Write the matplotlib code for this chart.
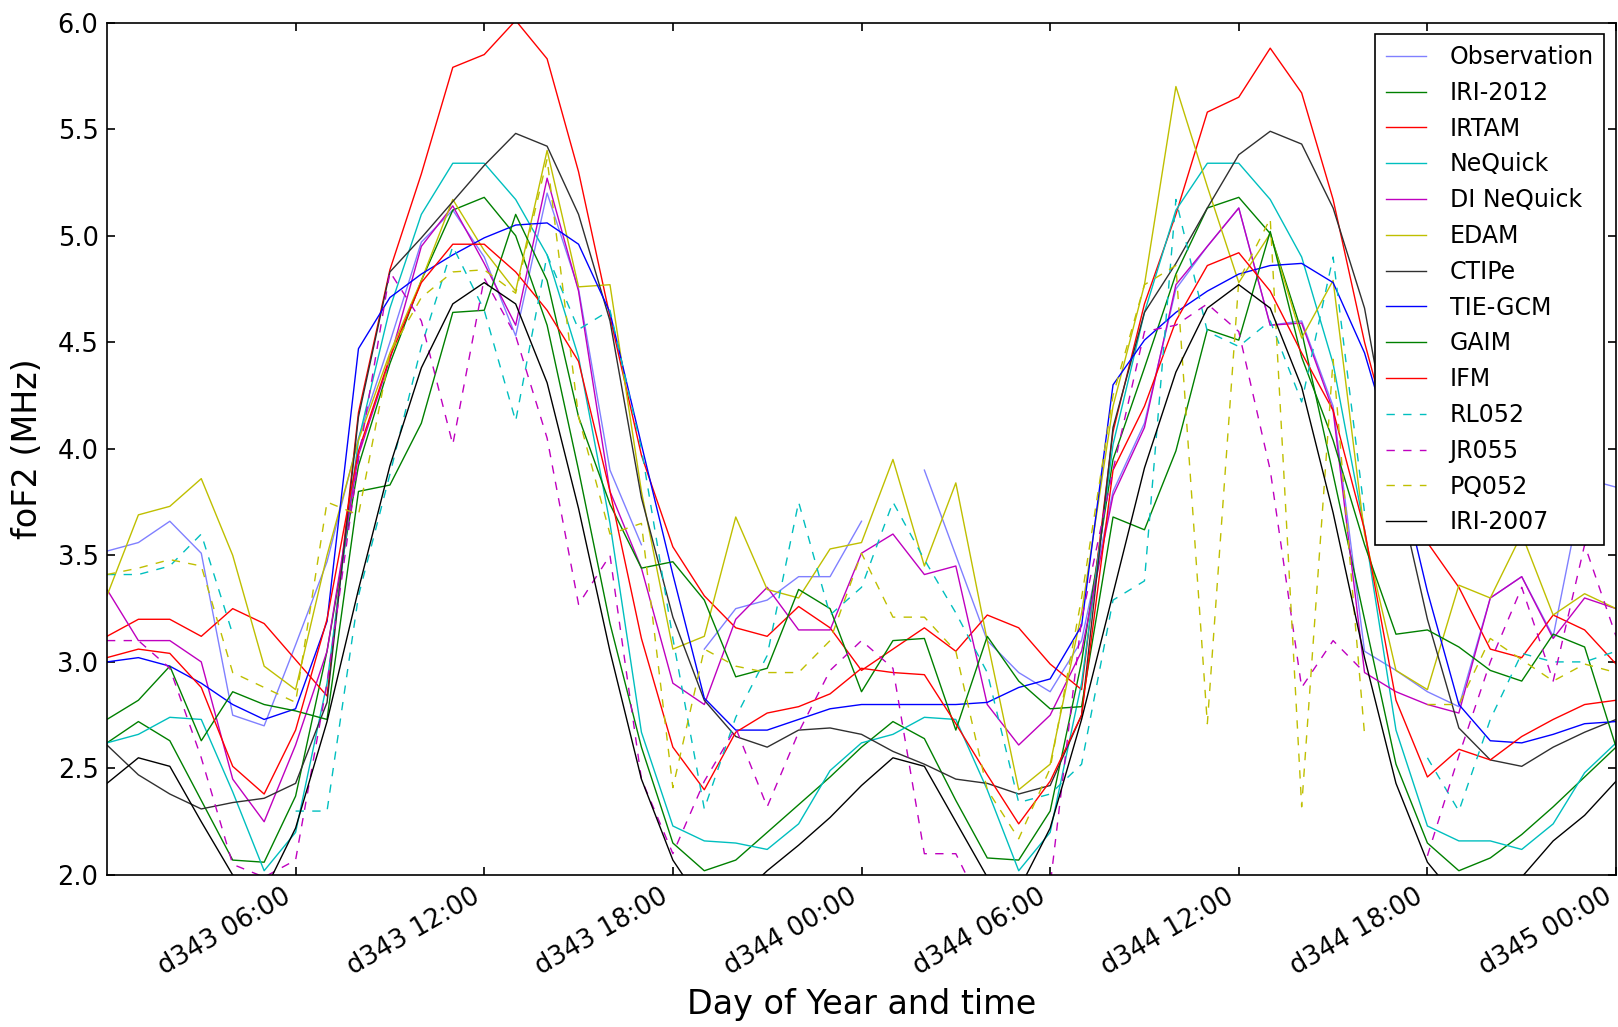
import numpy as np
import matplotlib
matplotlib.use("Agg")
import matplotlib.pyplot as plt

nan = np.nan

# hours since d343 00:00, one value per hour
hours = list(range(49))
tick_hours = [6, 12, 18, 24, 30, 36, 42, 48]
tick_labels = ["d343 06:00", "d343 12:00", "d343 18:00", "d344 00:00",
               "d344 06:00", "d344 12:00", "d344 18:00", "d345 00:00"]

observation = [3.52, 3.56, 3.66, 3.51, 2.75, 2.70, 3.08, 3.47, 4.05, 4.50, 4.97, 5.12, 4.90,
               4.53, 5.20, 4.75, 3.90, 3.55, nan, 3.06, 3.25, 3.29, 3.40, 3.40, 3.66,
               nan, 3.90, 3.50, 3.10, 2.95, 2.86, 3.10, 3.80, 4.12, 4.75, 4.95, 5.13,
               4.58, 4.60, 4.20, 3.05, 2.96, 2.86, 2.79, 3.30, 3.40, 3.12, 3.86, 3.82]
iri2012 = [2.62, 2.72, 2.63, 2.35, 2.07, 2.06, 2.37, 3.05, 3.92, 4.40, 4.79, 5.12, 5.18,
           5.00, 4.58, 3.90, 3.18, 2.60, 2.15, 2.02, 2.07, 2.20, 2.33, 2.46, 2.60,
           2.72, 2.64, 2.35, 2.08, 2.07, 2.30, 3.00, 3.95, 4.38, 4.82, 5.13, 5.18,
           5.01, 4.55, 3.88, 3.20, 2.52, 2.15, 2.02, 2.08, 2.19, 2.32, 2.46, 2.60]
irtam = [3.12, 3.20, 3.20, 3.12, 3.25, 3.18, 3.01, 2.84, 4.17, 4.84, 5.29, 5.79, 5.85,
         6.01, 5.83, 5.30, 4.62, 3.97, 3.54, 3.31, 3.16, 3.12, 3.26, 3.16, 2.96,
         3.06, 3.16, 3.05, 3.22, 3.16, 2.99, 2.87, 4.08, 4.68, 5.10, 5.58, 5.65,
         5.88, 5.67, 5.17, 4.50, 3.95, 3.56, 3.35, 3.06, 3.02, 3.22, 3.15, 2.99]
nequick = [2.62, 2.66, 2.74, 2.73, 2.39, 2.02, 2.20, 2.90, 4.04, 4.66, 5.10, 5.34, 5.34,
           5.17, 4.91, 4.43, 3.65, 2.67, 2.23, 2.16, 2.15, 2.12, 2.24, 2.49, 2.62,
           2.66, 2.74, 2.73, 2.40, 2.02, 2.20, 2.90, 4.02, 4.64, 5.12, 5.34, 5.34,
           5.17, 4.90, 4.40, 3.62, 2.68, 2.23, 2.16, 2.16, 2.12, 2.24, 2.48, 2.62]
di_nequick = [3.34, 3.10, 3.10, 3.00, 2.45, 2.25, 2.61, 3.05, 3.97, 4.42, 4.95, 5.14, 4.87,
              4.58, 5.27, 4.74, 3.80, 3.44, 2.90, 2.80, 3.20, 3.35, 3.15, 3.15, 3.51,
              3.60, 3.41, 3.45, 2.80, 2.61, 2.75, 3.05, 3.78, 4.10, 4.77, 4.95, 5.13,
              4.58, 4.59, 4.18, 2.95, 2.86, 2.80, 2.76, 3.30, 3.40, 3.11, 3.30, 3.25]
edam = [3.31, 3.69, 3.73, 3.86, 3.50, 2.98, 2.87, 3.50, 4.04, 4.45, 4.79, 5.17, 4.93,
        4.74, 5.40, 4.76, 4.77, 3.80, 3.06, 3.12, 3.68, 3.34, 3.30, 3.53, 3.56,
        3.95, 3.45, 3.84, 3.10, 2.40, 2.52, 3.23, 4.20, 4.77, 5.70, 5.23, 4.78,
        5.01, 4.52, 4.79, 3.60, 2.96, 2.87, 3.36, 3.30, 3.60, 3.22, 3.32, 3.25]
ctipe = [2.61, 2.47, 2.38, 2.31, 2.34, 2.36, 2.43, 2.81, 4.15, 4.83, 4.99, 5.16, 5.33,
         5.48, 5.42, 5.10, 4.60, 3.77, 3.21, 2.82, 2.65, 2.60, 2.68, 2.69, 2.66,
         2.58, 2.52, 2.45, 2.43, 2.38, 2.42, 2.75, 4.10, 4.64, 4.87, 5.13, 5.38,
         5.49, 5.43, 5.13, 4.66, 3.85, 3.20, 2.69, 2.54, 2.51, 2.60, 2.67, 2.73]
tiegcm = [3.00, 3.02, 2.98, 2.90, 2.80, 2.73, 2.78, 3.19, 4.47, 4.71, 4.82, 4.91, 4.99,
          5.05, 5.06, 4.96, 4.64, 4.02, 3.41, 2.83, 2.68, 2.68, 2.73, 2.78, 2.80,
          2.80, 2.80, 2.80, 2.81, 2.88, 2.92, 3.17, 4.30, 4.51, 4.64, 4.74, 4.82,
          4.86, 4.87, 4.78, 4.45, 3.95, 3.33, 2.80, 2.63, 2.62, 2.66, 2.71, 2.72]
gaim = [2.73, 2.82, 2.98, 2.63, 2.86, 2.80, 2.77, 2.73, 3.80, 3.83, 4.12, 4.64, 4.65,
        5.10, 4.79, 4.15, 3.74, 3.44, 3.47, 3.29, 2.93, 2.97, 3.34, 3.25, 2.86,
        3.10, 3.11, 2.68, 3.12, 2.91, 2.78, 2.79, 3.68, 3.62, 3.99, 4.56, 4.51,
        5.02, 4.43, 4.04, 3.55, 3.13, 3.15, 3.07, 2.96, 2.91, 3.13, 3.07, 2.60]
ifm = [3.02, 3.06, 3.04, 2.88, 2.51, 2.38, 2.68, 3.20, 3.99, 4.43, 4.78, 4.96, 4.96,
       4.83, 4.65, 4.41, 3.80, 3.11, 2.60, 2.40, 2.67, 2.76, 2.79, 2.85, 2.97,
       2.95, 2.94, 2.71, 2.47, 2.24, 2.44, 2.75, 3.90, 4.20, 4.60, 4.86, 4.92,
       4.74, 4.45, 4.18, 3.62, 2.82, 2.46, 2.59, 2.54, 2.65, 2.73, 2.80, 2.82]
rl052 = [3.41, 3.41, 3.45, 3.60, 3.13, nan, 2.30, 2.30, 3.31, 3.88, 4.48, 4.95, 4.65,
         4.13, 4.91, 4.56, 4.65, 4.00, 3.11, 2.31, 2.74, 3.03, 3.75, 3.22, 3.35,
         3.75, 3.48, 3.23, 2.95, 2.34, 2.38, 2.52, 3.29, 3.38, 5.17, 4.55, 4.48,
         4.60, 4.22, 4.90, 3.70, nan, 2.55, 2.30, 2.73, 3.04, 3.00, 3.00, 3.05]
jr055 = [3.10, 3.10, 2.97, 2.55, 2.05, 1.99, 2.07, 2.90, 3.95, 4.83, 4.60, 4.02, 4.80,
         4.53, 4.05, 3.27, 3.50, 2.45, 2.10, 2.44, 2.69, 2.32, 2.67, 2.96, 3.10,
         2.97, 2.10, 2.10, 1.80, 1.75, 1.95, 3.20, 3.90, 4.55, 4.58, 4.68, 4.55,
         3.90, 2.88, 3.10, 2.95, nan, 2.09, 2.56, 3.00, 3.35, 2.91, 3.55, 3.12]
pq052 = [3.41, 3.44, 3.48, 3.45, 2.95, 2.88, 2.81, 3.75, 3.69, 4.45, 4.71, 4.83, 4.84,
         4.73, 5.36, 4.15, 3.60, 3.65, 2.41, 3.06, 2.98, 2.95, 2.95, 3.10, 3.51,
         3.21, 3.21, 3.05, 2.40, 2.17, 2.50, 3.30, 4.25, 4.77, 4.86, 2.71, 4.79,
         5.08, 2.32, 4.42, 2.66, nan, 2.80, 2.80, 3.11, 3.01, 2.91, 2.99, 2.95]
iri2007 = [2.43, 2.55, 2.51, 2.25, 2.00, 1.92, 2.22, 2.72, 3.34, 3.92, 4.38, 4.68, 4.78,
           4.68, 4.31, 3.72, 3.05, 2.45, 2.07, 1.85, 1.88, 2.02, 2.14, 2.27, 2.42,
           2.55, 2.51, 2.25, 1.99, 1.93, 2.22, 2.73, 3.32, 3.91, 4.36, 4.66, 4.77,
           4.66, 4.29, 3.70, 3.02, 2.43, 2.06, 1.88, 1.86, 1.99, 2.16, 2.28, 2.44]

series = [
    ("Observation", observation, "#8080ff", "-"),
    ("IRI-2012", iri2012, "#008000", "-"),
    ("IRTAM", irtam, "#ff0000", "-"),
    ("NeQuick", nequick, "#00bfbf", "-"),
    ("DI NeQuick", di_nequick, "#bf00bf", "-"),
    ("EDAM", edam, "#bfbf00", "-"),
    ("CTIPe", ctipe, "#303030", "-"),
    ("TIE-GCM", tiegcm, "#0000ff", "-"),
    ("GAIM", gaim, "#008000", "-"),
    ("IFM", ifm, "#ff0000", "-"),
    ("RL052", rl052, "#00bfbf", "--"),
    ("JR055", jr055, "#bf00bf", "--"),
    ("PQ052", pq052, "#bfbf00", "--"),
    ("IRI-2007", iri2007, "#000000", "-"),
]

plt.rcParams["font.family"] = ["DejaVu Sans"]

fig = plt.figure(figsize=(16.18, 10.27), dpi=100)
ax = fig.add_axes([0.0661, 0.148, 0.9327, 0.830])

for label, values, color, style in series:
    if style == "--":
        ax.plot(hours, values, color=color, linewidth=1.0, label=label, dashes=(6, 6))
    else:
        ax.plot(hours, values, color=color, linewidth=1.0, label=label)

ax.set_xlim(0, 48)
ax.set_ylim(2.0, 6.0)
ax.set_xticks(tick_hours)
ax.set_xticklabels(tick_labels, rotation=30, ha="right")
ax.set_yticks(np.arange(2.0, 6.01, 0.5))
ax.set_yticklabels([f"{v:.1f}" for v in np.arange(2.0, 6.01, 0.5)])
ax.tick_params(axis="both", direction="in", top=True, right=True, length=6, width=1.2,
               labelsize=18.5, pad=6)
for sp in ax.spines.values():
    sp.set_linewidth(1.2)

ax.set_xlabel("Day of Year and time", fontsize=24, labelpad=6)
ax.set_ylabel("foF2 (MHz)", fontsize=24, labelpad=10)

leg = ax.legend(loc="upper right", fontsize=17, handlelength=1.7, handletextpad=1.0,
                labelspacing=0.5, borderpad=0.45, fancybox=False, framealpha=1)
leg.get_frame().set_edgecolor("black")
leg.get_frame().set_linewidth(1.2)

fig.savefig("out.png", dpi=100)
